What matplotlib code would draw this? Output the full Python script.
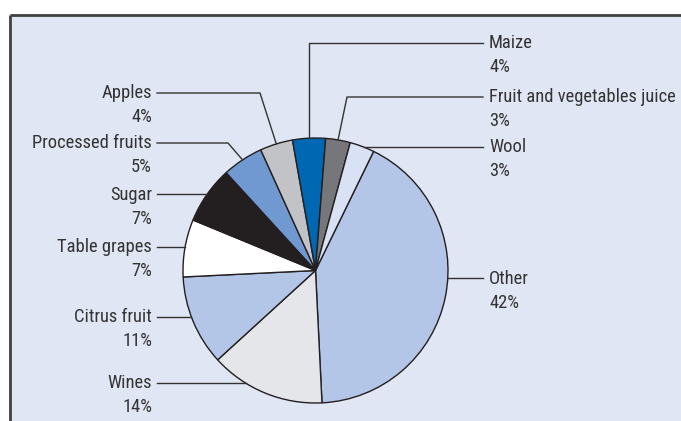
import matplotlib
matplotlib.use("Agg")
import matplotlib.pyplot as plt
import numpy as np
from matplotlib.patches import Rectangle
from matplotlib import font_manager

categories = ["Other", "Wines", "Citrus fruit", "Table grapes", "Sugar",
              "Processed fruits", "Apples", "Maize", "Fruit and vegetables juice", "Wool"]
values = [42, 14, 11, 7, 7, 5, 4, 4, 3, 3]
colors = ["#b3c6e7", "#e5e6ea", "#b3c6e7", "#ffffff", "#231f20",
          "#7199d1", "#c2c3c6", "#0068b3", "#76777a", "#d9e1f4"]

# pick a condensed sans font if one is installed, else Liberation Sans
fprop = None
cands = []
for f in font_manager.fontManager.ttflist:
    nm = f.name.lower()
    fn = f.fname.lower()
    st = str(f.stretch).lower()
    if f.style != "normal" or f.weight not in (400, "normal", "regular"):
        continue
    if ("narrow" in nm or "condensed" in nm or "narrow" in fn or "condensed" in fn
            or st in ("condensed", "semi-condensed")):
        if "bold" in fn or "italic" in fn or "oblique" in fn or "light" in fn \
                or "semibold" in fn or "medium" in fn or "thin" in fn or "black" in fn \
                or "extra" in fn or "ultra" in fn:
            continue
        if "mono" in nm or "serif" in nm.replace("sans serif", ""):
            continue
        cands.append(f.fname)
cands.sort(key=lambda p: (0 if "liberationsansnarrow" in p.lower().replace("-", "") else
                          1 if "roboto" in p.lower() else
                          2 if "dejavu" in p.lower() else 3, p))
if cands:
    fprop = font_manager.FontProperties(fname=cands[0], size=13.3)
else:
    fprop = font_manager.FontProperties(family=["Liberation Sans", "DejaVu Sans"], size=11.7)

W, H = 681, 421
fig = plt.figure(figsize=(W / 100, H / 100), dpi=100)
ax = fig.add_axes([0, 0, 1, 1])

def Y(y):
    return H - y

cx, cy, r = 315.5, Y(270.5), 132.5
wedges, _ = ax.pie(values, colors=colors, center=(cx, cy), radius=r, startangle=64,
                   counterclock=False, frame=True,
                   wedgeprops=dict(edgecolor="#231f20", linewidth=1.0, zorder=2))
ax.set_xlim(0, W)
ax.set_ylim(0, H)
ax.set_aspect("equal")
ax.axis("off")

# background panel and frame
ax.add_patch(Rectangle((10, 0), W - 10, Y(15), facecolor="#e0e6f4", edgecolor="none", zorder=0))
ax.plot([10, W], [Y(15), Y(15)], color="#404040", lw=2, zorder=1, solid_capstyle="butt")
ax.plot([10, 10], [0, Y(15)], color="#404040", lw=2, zorder=1, solid_capstyle="butt")

tc = "#333333"
lc = "#333333"

# label layout: (label y, side, elbow x or None)
layout = {
    "Apples": (93, "L", 260),
    "Processed fruits": (143, "L", 228),
    "Sugar": (194, "L", None),
    "Table grapes": (247, "L", None),
    "Citrus fruit": (317, "L", None),
    "Wines": (383, "L", None),
    "Maize": (43, "R", "v"),
    "Fruit and vegetables juice": (97, "R", 347),
    "Wool": (147, "R", None),
    "Other": (278, "R", None),
}

for w, name, val in zip(wedges, categories, values):
    ly, side, elbow = layout[name]
    mid = np.deg2rad((w.theta1 + w.theta2) / 2)
    ex, ey = cx + r * np.cos(mid), cy + r * np.sin(mid)
    yy = Y(ly)
    if side == "L":
        x0 = 157
        tx, ha = 152, "right"
    else:
        x0 = 483
        tx, ha = 489, "left"
    if elbow is None:
        dx = np.sqrt(max(r ** 2 - (yy - cy) ** 2, 0))
        xe = cx - dx if side == "L" else cx + dx
        xs, ys = [x0, xe], [yy, yy]
    elif elbow == "v":
        xs, ys = [x0, ex, ex], [yy, yy, ey]
    else:
        xs, ys = [x0, elbow, ex], [yy, yy, ey]
    ax.plot(xs, ys, color=lc, lw=1.0, zorder=3)
    ax.text(tx, yy - 0.5, name, ha=ha, va="center", fontproperties=fprop, color=tc)
    ax.text(tx, yy - 24.5, f"{val}%", ha=ha, va="center", fontproperties=fprop, color=tc)

fig.savefig("out.png", dpi=100)
